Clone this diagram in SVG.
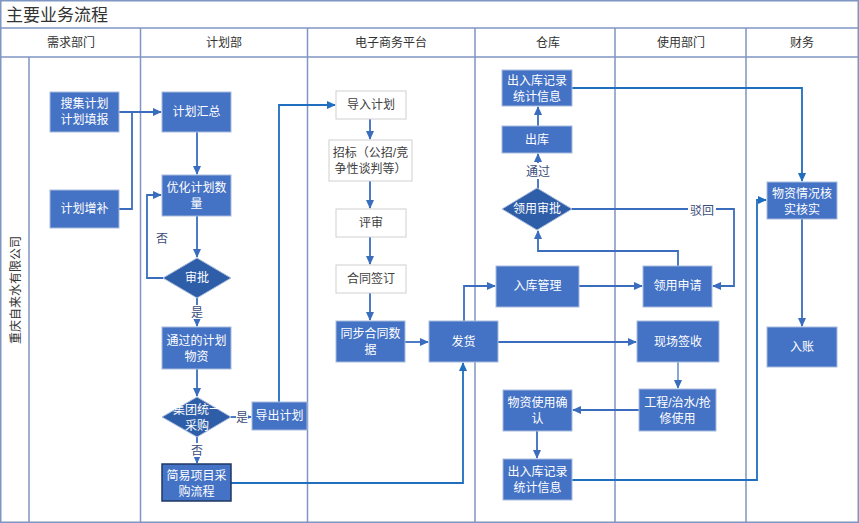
<svg xmlns="http://www.w3.org/2000/svg" width="859" height="523" viewBox="0 0 859 523">
<defs>
<style>
text{font-family:"Liberation Sans","Noto Sans CJK SC",sans-serif;}
.lane{fill:none;stroke:#7F95C2;stroke-width:1.5;}
.hd{font-size:12px;fill:#333;text-anchor:middle;}
.n{fill:#4472C4;stroke:#A8BBDC;stroke-width:1;}
.d{fill:#2F5EA8;stroke:#A8BBDC;stroke-width:1;}
.w{fill:#fff;stroke:#D0D0D0;stroke-width:1;}
.t{font-size:12px;fill:#fff;text-anchor:middle;}
.tw{font-size:12px;fill:#404040;text-anchor:middle;}
.c{fill:none;stroke:#3A6DBE;stroke-width:1.8;}
.c2{fill:none;stroke:#1F6EC0;stroke-width:1.8;}
.lb{font-size:12px;fill:#3B4E7A;text-anchor:middle;}
.bg{fill:#fff;}
</style>
<marker id="a" viewBox="0 0 10 10" refX="9" refY="5" markerWidth="9" markerHeight="9" orient="auto" markerUnits="userSpaceOnUse"><path d="M0,0.5 L10,5 L0,9.5 z" fill="#3A6DBE"/></marker>
<marker id="b" viewBox="0 0 10 10" refX="9" refY="5" markerWidth="9" markerHeight="9" orient="auto" markerUnits="userSpaceOnUse"><path d="M0,0.5 L10,5 L0,9.5 z" fill="#1F6EC0"/></marker>
</defs>
<rect x="0" y="0" width="859" height="523" fill="#fff"/>
<g id="frame">
<rect class="lane" x="0.75" y="0.75" width="857.5" height="521.5"/>
<line class="lane" x1="0" y1="28" x2="859" y2="28"/>
<line class="lane" x1="0" y1="57" x2="859" y2="57"/>
<line class="lane" x1="29" y1="57" x2="29" y2="523"/>
<line class="lane" x1="140.5" y1="28" x2="140.5" y2="523"/>
<line class="lane" x1="307.5" y1="28" x2="307.5" y2="523"/>
<line class="lane" x1="475" y1="28" x2="475" y2="523"/>
<line class="lane" x1="615" y1="28" x2="615" y2="523"/>
<line class="lane" x1="746" y1="28" x2="746" y2="523"/>
<text x="6" y="21" style="font-size:17px;fill:#333;font-family:'Noto Sans CJK SC',serif">主要业务流程</text>
<text class="hd" x="71" y="47">需求部门</text>
<text class="hd" x="224" y="47">计划部</text>
<text class="hd" x="391" y="47">电子商务平台</text>
<text class="hd" x="548" y="47">仓库</text>
<text class="hd" x="681" y="47">使用部门</text>
<text class="hd" x="802" y="47">财务</text>
<text x="0" y="0" transform="translate(20,290) rotate(-90)" style="font-size:12px;fill:#333;text-anchor:middle">重庆自来水有限公司</text>
</g>
<g id="connectors">
<path class="c" d="M119,112 H161" marker-end="url(#a)"/>
<path class="c" d="M119,209 H132 V112"/>
<path class="c" d="M197,132 V174" marker-end="url(#a)"/>
<path class="c" d="M197,216 V257" marker-end="url(#a)"/>
<path class="c" d="M163,278 H147 V195 H161" marker-end="url(#a)"/>
<path class="c" d="M197,298 V326" marker-end="url(#a)"/>
<path class="c" d="M197,369 V396" marker-end="url(#a)"/>
<path class="c" d="M231,417 H251" marker-end="url(#a)"/>
<path class="c" d="M197,437 V463" marker-end="url(#a)"/>
<path class="c2" d="M279,402 V105 H335" marker-end="url(#b)"/>
<path class="c2" d="M231,483 H463 V363" marker-end="url(#b)"/>
<path class="c" d="M370,119 V139" marker-end="url(#a)"/>
<path class="c" d="M370,181 V208" marker-end="url(#a)"/>
<path class="c" d="M370,237 V264" marker-end="url(#a)"/>
<path class="c" d="M370,293 V320" marker-end="url(#a)"/>
<path class="c" d="M405,342 H428" marker-end="url(#a)"/>
<path class="c" d="M464,321 V286 H495" marker-end="url(#a)"/>
<path class="c" d="M498,342 H636" marker-end="url(#a)"/>
<path class="c" d="M579,286 H642" marker-end="url(#a)"/>
<path class="c" d="M678,266 V251 H538 V231" marker-end="url(#a)"/>
<path class="c" d="M571,209 H734 V286 H713" marker-end="url(#a)"/>
<path class="c" d="M538,189 V154" marker-end="url(#a)"/>
<path class="c" d="M538,126 V107" marker-end="url(#a)"/>
<path class="c2" d="M572,88 H802 V181" marker-end="url(#b)"/>
<path class="c" d="M802,219 V326" marker-end="url(#a)"/>
<path class="c" style="stroke-width:1.2" d="M678,362 V388" marker-end="url(#a)"/>
<path class="c" d="M639,410 H573" marker-end="url(#a)"/>
<path class="c" d="M537,431 V458" marker-end="url(#a)"/>
<path class="c2" d="M572,480 H757 V200 H766" marker-end="url(#b)"/>
<rect class="bg" x="155" y="230" width="14" height="16"/>
<text class="lb" x="162" y="243">否</text>
<rect class="bg" x="190" y="305" width="14" height="14"/>
<text class="lb" x="197" y="317">是</text>
<rect class="bg" x="236" y="410" width="12" height="14"/>
<text class="lb" x="242" y="422">是</text>
<rect class="bg" x="190" y="443" width="14" height="14"/>
<text class="lb" x="197" y="455">否</text>
<rect class="bg" x="525" y="163" width="26" height="16"/>
<text class="lb" x="538" y="176">通过</text>
<rect class="bg" x="688" y="202" width="28" height="16"/>
<text class="lb" x="702" y="215">驳回</text>
</g>
<g id="n1"><rect class="n" x="50" y="92" width="69" height="40"/><text class="t" x="84.5" y="108">搜集计划</text><text class="t" x="84.5" y="124">计划填报</text></g>
<g id="n2"><rect class="n" x="50" y="190" width="69" height="38"/><text class="t" x="84.5" y="213">计划增补</text></g>
<g id="n3"><rect class="n" x="162" y="92" width="69" height="40"/><text class="t" x="196.5" y="116">计划汇总</text></g>
<g id="n4"><rect class="n" x="162" y="175" width="69" height="41"/><text class="t" x="196.5" y="192">优化计划数</text><text class="t" x="196.5" y="208">量</text></g>
<g id="n5"><path class="d" d="M163,278 L197,258 L231,278 L197,298 Z"/><text class="t" x="197" y="282">审批</text></g>
<g id="n6"><rect class="n" x="162" y="327" width="69" height="42"/><text class="t" x="196.5" y="345">通过的计划</text><text class="t" x="196.5" y="361">物资</text></g>
<g id="n7"><path class="d" d="M162,417 L197,397 L231,417 L197,437 Z"/><text class="t" x="197" y="414">集团统一</text><text class="t" x="197" y="430">采购</text></g>
<g id="n8"><rect class="n" style="stroke:#1F3864;stroke-width:1.5" x="162" y="464" width="69" height="37"/><text class="t" x="196.5" y="480">简易项目采</text><text class="t" x="196.5" y="496">购流程</text></g>
<g id="n9"><rect class="n" x="252" y="402" width="55" height="28"/><text class="t" x="279.5" y="420">导出计划</text></g>
<g id="n10"><rect class="w" x="336" y="91" width="70" height="28"/><text class="tw" x="371" y="109">导入计划</text></g>
<g id="n11"><rect class="w" x="329" y="140" width="83" height="41"/><text class="tw" x="370.5" y="157">招标（公招/竞</text><text class="tw" x="370.5" y="173">争性谈判等）</text></g>
<g id="n12"><rect class="w" x="336" y="209" width="70" height="28"/><text class="tw" x="371" y="227">评审</text></g>
<g id="n13"><rect class="w" x="336" y="265" width="70" height="28"/><text class="tw" x="371" y="283">合同签订</text></g>
<g id="n14"><rect class="n" x="336" y="321" width="69" height="41"/><text class="t" x="370.5" y="338">同步合同数</text><text class="t" x="370.5" y="354">据</text></g>
<g id="n15"><rect class="n" x="429" y="321" width="69" height="41"/><text class="t" x="463.5" y="346">发货</text></g>
<g id="n16"><rect class="n" x="502" y="70" width="70" height="36"/><text class="t" x="537" y="85">出入库记录</text><text class="t" x="537" y="101">统计信息</text></g>
<g id="n17"><rect class="n" x="502" y="126" width="70" height="27"/><text class="t" x="537" y="144">出库</text></g>
<g id="n18"><path class="d" d="M502,209 L537,188 L572,209 L537,230 Z"/><text class="t" x="537" y="213">领用审批</text></g>
<g id="n19"><rect class="n" x="496" y="266" width="83" height="41"/><text class="t" x="537.5" y="290">入库管理</text></g>
<g id="n20"><rect class="n" x="643" y="266" width="69" height="41"/><text class="t" x="677.5" y="290">领用申请</text></g>
<g id="n21"><rect class="n" x="637" y="321" width="82" height="41"/><text class="t" x="678" y="346">现场签收</text></g>
<g id="n22"><rect class="n" x="639" y="389" width="77" height="42"/><text class="t" x="677.5" y="407">工程/治水/抢</text><text class="t" x="677.5" y="423">修使用</text></g>
<g id="n23"><rect class="n" x="503" y="390" width="69" height="41"/><text class="t" x="537.5" y="407">物资使用确</text><text class="t" x="537.5" y="423">认</text></g>
<g id="n24"><rect class="n" x="503" y="459" width="69" height="41"/><text class="t" x="537.5" y="476">出入库记录</text><text class="t" x="537.5" y="492">统计信息</text></g>
<g id="n25"><rect class="n" x="767" y="182" width="70" height="37"/><text class="t" x="802" y="198">物资情况核</text><text class="t" x="802" y="214">实核实</text></g>
<g id="n26"><rect class="n" x="767" y="327" width="70" height="40"/><text class="t" x="802" y="351">入账</text></g>
</svg>
